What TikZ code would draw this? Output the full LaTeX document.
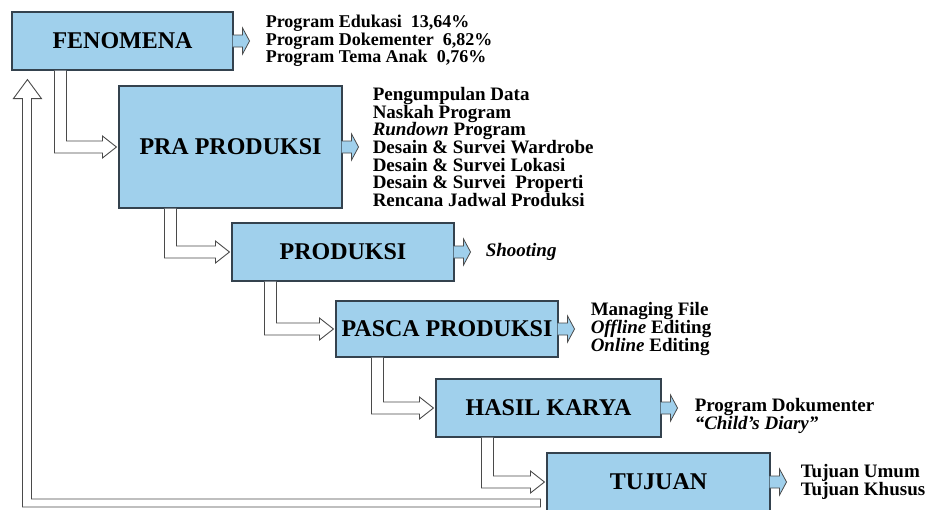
\documentclass[tikz,border=0pt]{standalone}
\usepackage{fontspec}
\setmainfont{Liberation Serif}
\usetikzlibrary{calc,positioning}
\definecolor{boxblue}{RGB}{160,208,236}
\definecolor{edge}{HTML}{34424E}
\definecolor{flowgray}{HTML}{4A4A4A}
\tikzset{
  stage/.style={draw=edge,line width=1.1pt,fill=boxblue,inner sep=0pt,
    font=\fontsize{24}{28}\selectfont\bfseries},
  notes/.style={align=left,inner sep=0pt,font=\fontsize{19}{17.6}\selectfont\bfseries},
  stubline/.style={draw=flowgray,fill=boxblue,line width=0.8pt,line join=miter},
  flowline/.style={draw=flowgray,fill=white,line width=0.9pt,line join=miter}
}
\newcommand{\sidearrow}[1]{%
  \filldraw[stubline,shift={(#1.east)}] (-1,-6) -- (9,-6) -- (9,-13) -- (16,0) -- (9,13) -- (9,6) -- (-1,6);}
\newcommand{\flowarrow}[3]{%
  \filldraw[flowline] ($(#1.south west)+(#3,0)$) |- ($(#2.west)+(-16,6)$) -- ++(0,5)
    -- ($(#2.west)+(-2,0)$) -- ++(-14,-11) -- ++(0,5) -| ($(#1.south west)+(#3+12,0)$);}

\begin{document}
\begin{tikzpicture}[x=1pt,y=-1pt]
\clip (0,0) rectangle (929,509);
\fill[white] (0,0) rectangle (929,509);
\node[stage,minimum width=221pt,minimum height=58pt] (fen) at (122.5,41) {FENOMENA};
\node[stage,minimum width=223pt,minimum height=122pt] (pra) at (230.5,147) {PRA PRODUKSI};
\node[stage,minimum width=222pt,minimum height=58pt] (prod) at (343,252) {PRODUKSI};
\node[stage,minimum width=222pt,minimum height=56pt] (pasca) at (447,329) {PASCA PRODUKSI};
\node[stage,minimum width=225pt,minimum height=58pt] (hasil) at (548.5,408) {HASIL KARYA};
\node[stage,minimum width=223pt,minimum height=58pt] (tuj) at (658.5,482) {TUJUAN};
\foreach \s in {fen,pra,prod,pasca,hasil,tuj} {\sidearrow{\s}}
\node[notes,font=\fontsize{18}{15.5}\selectfont\bfseries,right=32pt of fen] (fenL)
  {Program Edukasi~ 13,64\%\\Program Dokementer~ 6,82\%\\Program Tema Anak~ 0,76\%};
\node[notes,right=30pt of pra] (praL)
  {Pengumpulan Data\\Naskah Program\\\textit{Rundown} Program\\Desain \& Survei Wardrobe\\Desain \& Survei Lokasi\\Desain \& Survei~ Properti\\Rencana Jadwal Produksi};
\node[notes,right=31pt of prod] (prodL) {\textit{Shooting}};
\node[notes,right=32pt of pasca] (pascaL) {Managing File\\\textit{Offline} Editing\\\textit{Online} Editing};
\node[notes,right=33pt of hasil,yshift=-8pt] (hasilL) {Program Dokumenter\\\textit{``Child's Diary''}};
\node[notes,right=30pt of tuj] (tujL) {Tujuan Umum\\Tujuan Khusus};
\flowarrow{fen}{pra}{43}
\flowarrow{pra}{prod}{46}
\flowarrow{prod}{pasca}{33}
\flowarrow{pasca}{hasil}{36}
\flowarrow{hasil}{tuj}{46}
\filldraw[flowline] ($(tuj.west)+(-6,17)$) -| ($(fen.south west)+(20,28)$) -- ++(10,0)
  -- ($(fen.south west)+(16,9)$) -- ++(-14,19) -- ++(9,0) |- ($(tuj.west)+(-6,25)$) -- cycle;
\end{tikzpicture}
\end{document}
